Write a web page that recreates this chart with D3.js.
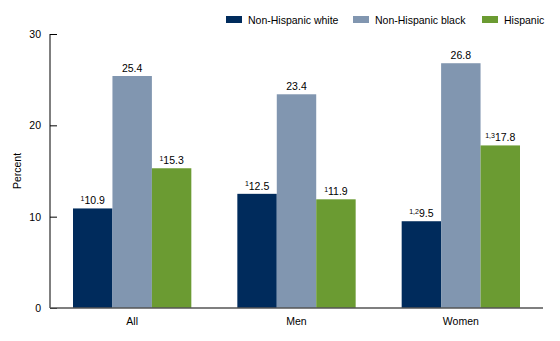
<!DOCTYPE html>
<html><head><meta charset="utf-8">
<script src="https://cdn.jsdelivr.net/npm/d3@7"></script>
<style>
html,body{margin:0;padding:0;background:#fff;}
text{font-family:"Liberation Sans",Arial,sans-serif;fill:#000;}
</style></head>
<body><svg id="c" width="560" height="341"></svg>
<script>
const categories = ["All", "Men", "Women"];
const seriesNames = ["Non-Hispanic white", "Non-Hispanic black", "Hispanic"];
const whiteValues = [10.9, 12.5, 9.5];
const blackValues = [25.4, 23.4, 26.8];
const hispanicValues = [15.3, 11.9, 17.8];
const whiteNotes = ["1", "1", "1,2"];
const blackNotes = ["", "", ""];
const hispanicNotes = ["1", "1", "1,3"];
const yTicks = [0, 10, 20, 30];
const colors = ["#002b5c", "#8196b0", "#6b9b32"];

const series = [
  {name: seriesNames[0], values: whiteValues, notes: whiteNotes, color: colors[0]},
  {name: seriesNames[1], values: blackValues, notes: blackNotes, color: colors[1]},
  {name: seriesNames[2], values: hispanicValues, notes: hispanicNotes, color: colors[2]}
];

const svg = d3.select("#c");
const mLeft = 50, mRight = 543, mTop = 34, mBottom = 308;
const x = d3.scaleBand().domain(categories).range([mLeft, mRight]).paddingInner(0.28).paddingOuter(0.14);
const xs = d3.scaleBand().domain([0,1,2]).range([0, x.bandwidth()]);
const y = d3.scaleLinear().domain([0, 30]).range([mBottom, mTop]);

// bars
categories.forEach((c, ci) => {
  series.forEach((s, si) => {
    const bx = x(c) + xs(si), bw = xs.bandwidth();
    const v = s.values[ci];
    svg.append("rect").attr("x", bx).attr("y", y(v)).attr("width", bw).attr("height", y(0) - y(v))
      .attr("fill", s.color);
    const t = svg.append("text").attr("x", bx + bw/2).attr("y", y(v) - 4)
      .attr("text-anchor", "middle").attr("font-size", "10.5px");
    if (s.notes[ci]) {
      t.append("tspan").attr("font-size", "7px").attr("dy", "-3.5").text(s.notes[ci]);
      t.append("tspan").attr("dy", "3.5").text(v.toFixed(1));
    } else {
      t.text(v.toFixed(1));
    }
  });
});

// y axis
const yAxis = d3.axisLeft(y).tickValues(yTicks).tickSize(-7).tickPadding(9).tickFormat(d3.format("d"));
const ya = svg.append("g").attr("transform", `translate(${mLeft},0)`).call(yAxis);
ya.select(".domain").attr("stroke", "#000").attr("d", `M0,${mTop}V${mBottom}`);
ya.selectAll(".tick line").attr("stroke", "#000");
ya.selectAll("text").attr("font-size", "10.5px").attr("font-family", "Liberation Sans, Arial, sans-serif");

// x axis
const xAxis = d3.axisBottom(x).tickSize(0).tickPadding(10);
const xa = svg.append("g").attr("transform", `translate(0,${mBottom})`).call(xAxis);
xa.select(".domain").attr("stroke", "#555").attr("stroke-width", 1.3).attr("d", `M${mLeft},0H${mRight}`);
xa.selectAll("text").attr("font-size", "10.5px").attr("font-family", "Liberation Sans, Arial, sans-serif");

// y title
svg.append("text").attr("transform", `translate(21,${(mTop+mBottom)/2}) rotate(-90)`)
  .attr("text-anchor", "middle").attr("font-size", "10.5px").text("Percent");

// legend
const legendX = [226, 353, 482];
series.forEach((s, i) => {
  svg.append("rect").attr("x", legendX[i]).attr("y", 16).attr("width", 16).attr("height", 7).attr("fill", s.color);
  svg.append("text").attr("x", legendX[i] + 22).attr("y", 23.5).attr("font-size", "10.5px").text(s.name);
});
</script></body></html>
